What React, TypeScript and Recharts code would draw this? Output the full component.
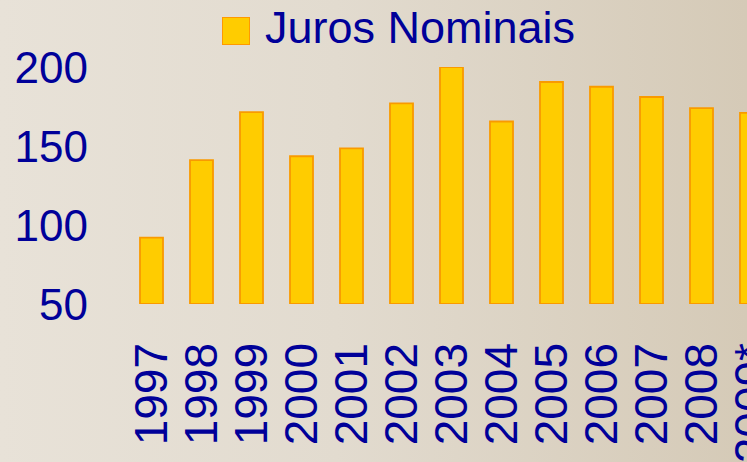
import React from "react";
import { BarChart, Bar, XAxis, YAxis, Legend } from "recharts";

const categories = ["1997", "1998", "1999", "2000", "2001", "2002", "2003", "2004", "2005", "2006", "2007", "2008", "2009*"];
const jurosNominais = [92, 141, 171.5, 143.5, 148.5, 177, 200, 165.5, 190.5, 187.5, 181, 174, 171];
const yTicks = [50, 100, 150, 200];
const seriesName = "Juros Nominais";

const data = categories.map((c, i) => ({ year: c, juros: jurosNominais[i] }));

const TEXT = "#000099";
const FONT = "'Liberation Sans', Arial, sans-serif";

const XTick = (props: any) => {
  const { x, payload } = props;
  return (
    <text
      transform={`translate(${x + 16}, 343) rotate(-90)`}
      textAnchor="end"
      fill={TEXT}
      fontSize={46}
      fontFamily={FONT}
    >
      {payload.value}
    </text>
  );
};

const YTick = (props: any) => {
  const { y, payload } = props;
  return (
    <text x={88} y={y + 16} textAnchor="end" fill={TEXT} fontSize={44} fontFamily={FONT}>
      {payload.value}
    </text>
  );
};

const LegendContent = () => (
  <div style={{ position: "relative", height: 0 }}>
    <div
      style={{
        position: "absolute",
        left: 222,
        top: 17,
        width: 26,
        height: 26,
        background: "#FFCC00",
        border: "1.5px solid #FF9900",
      }}
    />
    <div
      style={{
        position: "absolute",
        left: 265,
        top: 2,
        fontSize: 45,
        lineHeight: "52px",
        color: TEXT,
        fontFamily: FONT,
        whiteSpace: "nowrap",
      }}
    >
      {seriesName}
    </div>
  </div>
);

export default function App() {
  return (
    <div
      style={{
        position: "absolute",
        left: 0,
        top: 0,
        width: 747,
        height: 462,
        overflow: "hidden",
        background: "linear-gradient(to right, #e8e2d8 0%, #e2dbcf 45%, #d5cab7 100%)",
      }}
    >
      <BarChart
        width={776}
        height={462}
        data={data}
        margin={{ top: 67, right: 0, bottom: 0, left: 0 }}
        barSize={23}
      >
        <Legend
          verticalAlign="top"
          align="left"
          content={<LegendContent />}
          wrapperStyle={{ position: "absolute", top: 0, left: 0, width: 747, height: 0 }}
        />
        <XAxis
          dataKey="year"
          axisLine={false}
          tickLine={false}
          height={158}
          interval={0}
          tick={<XTick />}
        />
        <YAxis
          domain={[50, 200]}
          ticks={yTicks}
          axisLine={false}
          tickLine={false}
          width={126}
          tick={<YTick />}
          allowDataOverflow
        />
        <Bar
          dataKey="juros"
          name={seriesName}
          fill="#FFCC00"
          stroke="#F99A00"
          strokeWidth={1.8}
          isAnimationActive={false}
        />
      </BarChart>
    </div>
  );
}
